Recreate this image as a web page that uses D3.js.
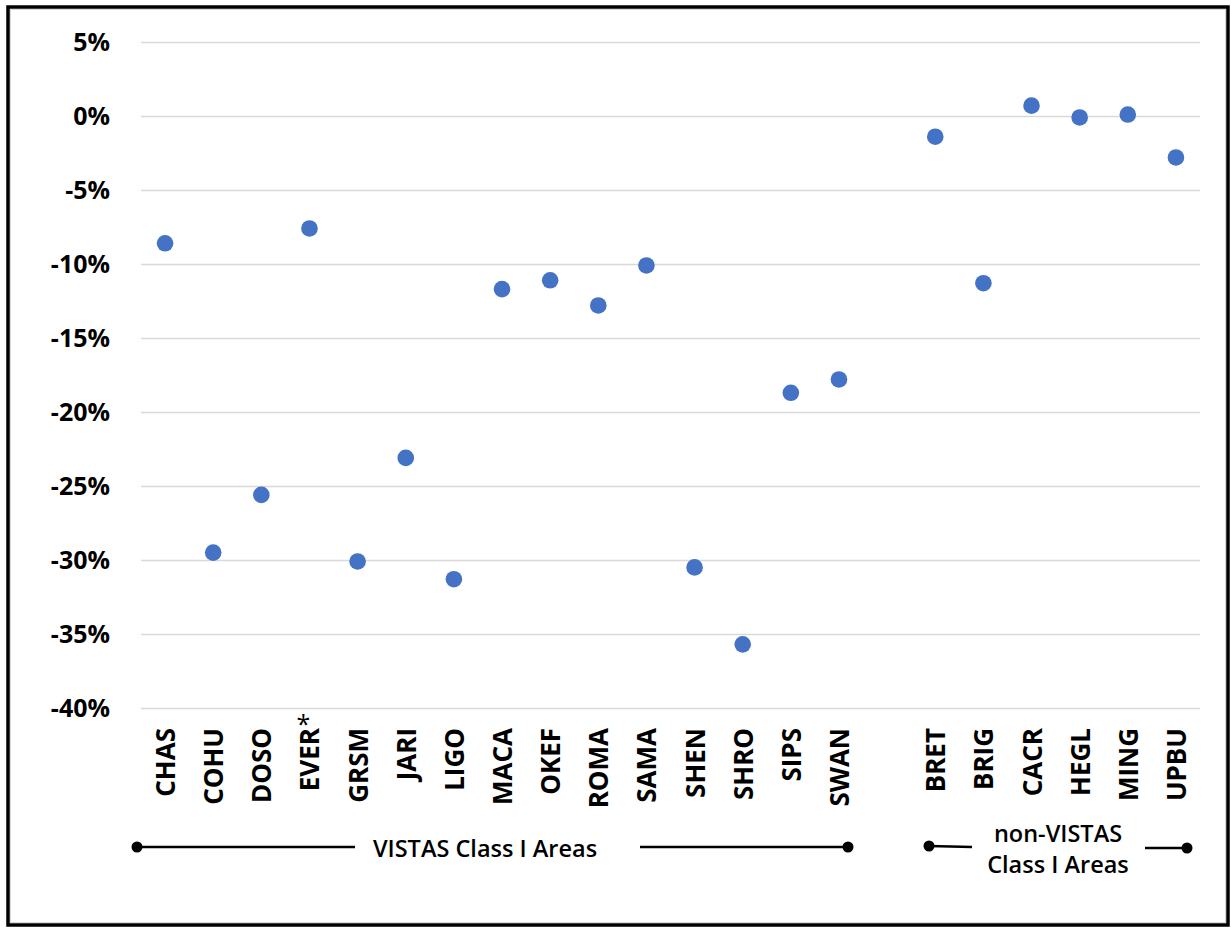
<!DOCTYPE html>
<html><head><meta charset="utf-8">
<script src="https://cdn.jsdelivr.net/npm/d3@7"></script>
<style>
html,body{margin:0;padding:0;background:#fff;}
svg{display:block;}
text{font-family:"Open Sans",sans-serif;}
</style></head>
<body><svg id="c" width="1231" height="928"></svg>
<script>
const vistasAreas = ["CHAS","COHU","DOSO","EVER","GRSM","JARI","LIGO","MACA","OKEF","ROMA","SAMA","SHEN","SHRO","SIPS","SWAN"];
const vistasValues = [-8.6,-29.5,-25.6,-7.6,-30.1,-23.1,-31.3,-11.7,-11.1,-12.8,-10.1,-30.5,-35.7,-18.7,-17.8];
const nonVistasAreas = ["BRET","BRIG","CACR","HEGL","MING","UPBU"];
const nonVistasValues = [-1.4,-11.3,0.7,-0.1,0.1,-2.8];
const yTicks = [5,0,-5,-10,-15,-20,-25,-30,-35,-40];
const flaggedAreas = ["EVER"];
const groupLabels = ["VISTAS Class I Areas", ["non-VISTAS","Class I Areas"]];

(function(){
const svg = d3.select("#c");
const mLeft = 141, mRight = 1200, mTop = 42, mBottom = 708;

// frame
svg.append("rect").attr("x",8).attr("y",7).attr("width",1220).attr("height",918)
  .attr("fill","#fff").attr("stroke","#000").attr("stroke-width",3.5);
svg.append("rect").attr("x",10.5).attr("y",9.5).attr("width",1215).attr("height",913)
  .attr("fill","none").attr("stroke","#d8d8d8").attr("stroke-width",1);

const domain = [...vistasAreas, "__gap__", ...nonVistasAreas];
const x = d3.scaleBand().domain(domain).range([mLeft, mRight]).paddingInner(0).paddingOuter(0);
const y = d3.scaleLinear().domain([-40, 5]).range([mBottom, mTop]);

// y axis with gridlines
const yAxis = d3.axisLeft(y).tickValues(yTicks).tickFormat(d => d + "%")
  .tickSize(-(mRight - mLeft)).tickPadding(31);
const gy = svg.append("g").attr("transform", `translate(${mLeft},0)`).call(yAxis);
gy.select(".domain").remove();
gy.selectAll(".tick line").attr("stroke", "#d9d9d9").attr("stroke-width", 1.6);
gy.selectAll(".tick text").attr("font-size", 25).attr("font-weight", 700).attr("fill", "#000")
  .attr("font-family", "'Open Sans',sans-serif");

// x axis labels
const xAxis = d3.axisBottom(x).tickValues([...vistasAreas, ...nonVistasAreas]).tickSize(0).tickPadding(0);
const gx = svg.append("g").attr("transform", `translate(0,${mBottom})`).call(xAxis);
gx.select(".domain").remove();
gx.selectAll(".tick text")
  .attr("font-size", 26).attr("font-weight", 700).attr("fill", "#000")
  .attr("font-family", "'Open Sans',sans-serif")
  .attr("text-anchor", "end").attr("dy", null).attr("y", 0)
  .attr("transform", "translate(10,20) rotate(-90)");

// asterisk
flaggedAreas.forEach(a => {
  svg.append("text").attr("x", x(a) + x.bandwidth()/2 - 6).attr("y", mBottom + 25)
    .attr("text-anchor","middle").attr("font-size", 25).attr("fill","#000").text("*");
});

// points
const pts = [
  ...vistasAreas.map((a,i)=>({a, v: vistasValues[i]})),
  ...nonVistasAreas.map((a,i)=>({a, v: nonVistasValues[i]}))
];
svg.append("g").selectAll("circle").data(pts).join("circle")
  .attr("cx", d => x(d.a) + x.bandwidth()/2)
  .attr("cy", d => y(d.v))
  .attr("r", 8.3)
  .attr("fill", "#4472C4");

// group brackets
function bracketEnd(cx, cy) {
  svg.append("circle").attr("cx", cx).attr("cy", cy).attr("r", 5.5).attr("fill", "#000");
}
function seg(x1, y1, x2, y2) {
  svg.append("line").attr("x1",x1).attr("y1",y1).attr("x2",x2).attr("y2",y2)
    .attr("stroke","#000").attr("stroke-width",2.4);
}
const vy = 847;
seg(137, vy, 355, vy); bracketEnd(137, vy);
seg(640, vy, 848, vy); bracketEnd(848, vy);
svg.append("text").attr("x", 485).attr("y", 857).attr("text-anchor","middle")
  .attr("font-size", 23.5).attr("font-weight", 600).attr("fill","#000").text(groupLabels[0]);
seg(929, 846, 972, 847); bracketEnd(929, 846);
seg(1145, 848, 1187, 848); bracketEnd(1187, 848);
const nt = svg.append("text").attr("text-anchor","middle").attr("font-size", 23.5)
  .attr("font-weight", 600).attr("fill","#000");
nt.append("tspan").attr("x", 1058).attr("y", 842).text(groupLabels[1][0]);
nt.append("tspan").attr("x", 1058).attr("y", 873).text(groupLabels[1][1]);
})();
</script></body></html>
